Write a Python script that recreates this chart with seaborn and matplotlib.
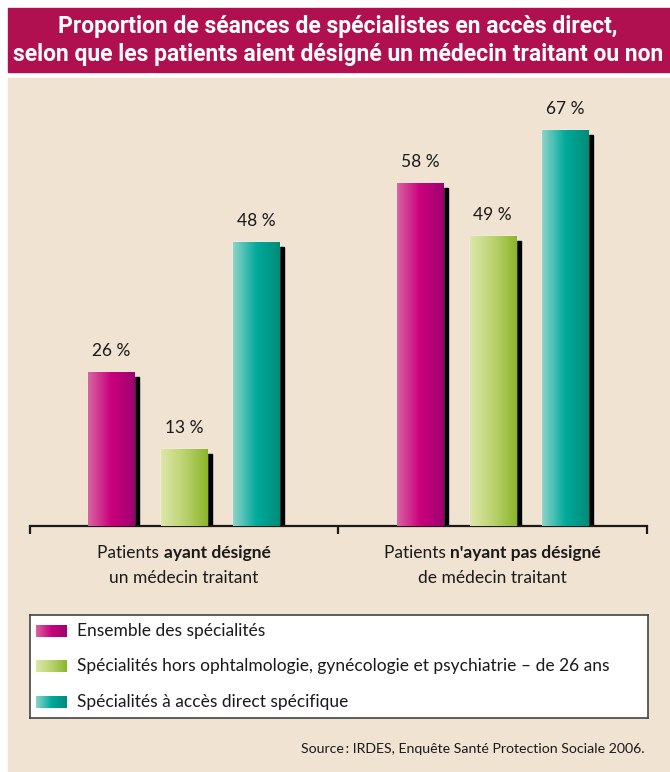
import numpy as np
import pandas as pd
import matplotlib
matplotlib.use("Agg")
import matplotlib.pyplot as plt
import matplotlib.transforms as mtransforms
from matplotlib.patches import Rectangle
from matplotlib.colors import LinearSegmentedColormap
import seaborn as sns

# data
groups = ["ayant", "n'ayant pas"]
series = ["Ensemble des spécialités",
          "Spécialités hors ophtalmologie, gynécologie et psychiatrie – de 26 ans",
          "Spécialités à accès direct spécifique"]
ensemble = [26, 58]
hors_ophtalmo = [13, 49]
acces_direct = [48, 67]
group_labels = [[("Patients ", "normal"), ("ayant désigné", "bold")],
                [("Patients ", "normal"), ("n'ayant pas désigné", "bold")]]
group_labels2 = ["un médecin traitant", "de médecin traitant"]
title_lines = ["Proportion de séances de spécialistes en accès direct,",
               "selon que les patients aient désigné un médecin traitant ou non"]

df = pd.DataFrame({
    "groupe": groups * 3,
    "serie": [series[0]] * 2 + [series[1]] * 2 + [series[2]] * 2,
    "valeur": ensemble + hors_ophtalmo + acces_direct,
})

gradients = [["#D865A2", "#C9007B", "#9E0071"],
             ["#DDE7AA", "#BBD26E", "#8AB52A"],
             ["#8FD3C9", "#00AA9C", "#008B78"]]
beige = "#F0E3D1"
W, H = 670, 772

sns.set_theme(style="white")
plt.rcParams["font.family"] = ["Lato", "DejaVu Sans"]

fig = plt.figure(figsize=(W / 100, H / 100), dpi=100, facecolor="white")
renderer = fig.canvas.get_renderer()
fig.patches.append(Rectangle((8 / W, 0), 1 - 8 / W, 1 - 78 / H, transform=fig.transFigure,
                             color=beige, zorder=-10))
fig.patches.append(Rectangle((8 / W, 1 - 72 / H), 1 - 8 / W, 64 / H, transform=fig.transFigure,
                             color="#B0104F", zorder=-10))

# title: fit the long line into the band
tfam = ["Roboto", "DejaVu Sans"]
probe = fig.text(0, 0, title_lines[1], fontsize=16, fontweight="bold", family=tfam)
tsize = 16 * 652 / probe.get_window_extent(renderer).width
probe.remove()
for k, line in enumerate(title_lines):
    fig.text(338 / W, 1 - (26 + 28 * k) / H, line, ha="center", va="center", color="white",
             fontsize=tsize, fontweight="bold", family=tfam)

ax = fig.add_axes([29.5 / W, (H - 526) / H, 617.5 / W, 426 / H])
ax.set_facecolor("none")
sns.barplot(data=df, x="groupe", y="valeur", hue="serie", palette=[g[1] for g in gradients],
            width=0.705, gap=0.366, legend=False, ax=ax, saturation=1)

shadow_tr = mtransforms.offset_copy(ax.transData, fig=fig, x=5, y=-5, units="dots")
for cont, grad in zip(ax.containers, gradients):
    cmap = LinearSegmentedColormap.from_list("g", grad)
    for bar in cont:
        x0, y0 = bar.get_x(), bar.get_y()
        w, h = bar.get_width(), bar.get_height()
        ax.add_patch(Rectangle((x0, y0), w, h, transform=shadow_tr, color="black", zorder=1))
        bar.set_zorder(2)
        im = ax.imshow(np.linspace(0, 1, 256).reshape(1, -1), cmap=cmap, aspect="auto",
                       extent=[x0, x0 + w, y0, y0 + h], zorder=3)
        im.set_clip_path(bar)
        ax.text(x0 + w / 2, h + 3.6, f"{h:.0f} %", ha="center", va="center",
                fontsize=12.5, color="#1a1a1a")

ax.set_xlim(-0.5, 1.5)
ax.set_ylim(0, 72.1)
ax.set_xticks([-0.5, 0.5, 1.5])
ax.set_xticklabels([])
ax.set_yticks([])
ax.set_xlabel("")
ax.set_ylabel("")
for s in ["top", "left", "right"]:
    ax.spines[s].set_visible(False)
ax.spines["bottom"].set_linewidth(1.6)
ax.spines["bottom"].set_color("#1a1a1a")
ax.tick_params(axis="x", bottom=True, direction="out", length=6, width=1.6, color="#1a1a1a")

# category labels with a bold part
for i, parts in enumerate(group_labels):
    cx = ax.transData.transform((i, 0))[0]
    widths = []
    for txt, wt in parts:
        t = fig.text(0, 0, txt, fontsize=12.5, fontweight=wt)
        widths.append(t.get_window_extent(renderer).width)
        t.remove()
    x = cx - sum(widths) / 2
    for (txt, wt), wd in zip(parts, widths):
        fig.text(x / W, 1 - 553 / H, txt, fontsize=12.5, fontweight=wt, va="center", ha="left",
                 color="#1a1a1a")
        x += wd
    fig.text(cx / W, 1 - 578 / H, group_labels2[i], fontsize=12.5, va="center", ha="center",
             color="#1a1a1a")

# legend box
lax = fig.add_axes([30 / W, (H - 718) / H, 618 / W, 103 / H])
lax.set_facecolor("white")
lax.set_xticks([])
lax.set_yticks([])
for s in lax.spines.values():
    s.set_color("#444444")
    s.set_linewidth(1.2)
for k, (lab, grad) in enumerate(zip(series, gradients)):
    yc = 16 + k * 35.5
    cmap = LinearSegmentedColormap.from_list("g", grad)
    lax.imshow(np.linspace(0, 1, 256).reshape(1, -1), cmap=cmap, aspect="auto",
               extent=[6, 37, yc + 6, yc - 6])
    lax.text(47, yc, lab, va="center", ha="left", fontsize=12.5, color="#1a1a1a")
lax.set_xlim(0, 618)
lax.set_ylim(103, 0)

fig.text(645 / W, 1 - 749 / H, "Source\u2009: IRDES, Enquête Santé Protection Sociale 2006.",
         ha="right", va="center", fontsize=10.2, color="#1a1a1a")

fig.savefig("out.png", dpi=100, facecolor="white")
